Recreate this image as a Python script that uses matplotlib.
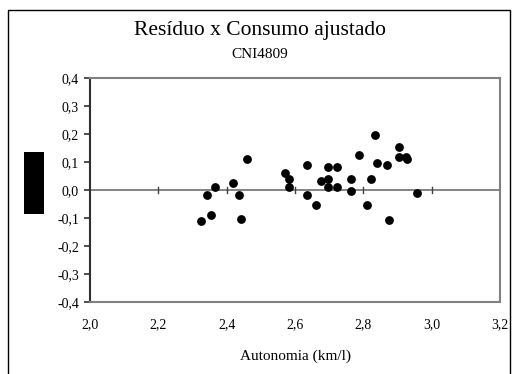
import matplotlib
matplotlib.use("Agg")
import matplotlib.pyplot as plt
from matplotlib.patches import Rectangle
from matplotlib.ticker import FuncFormatter

autonomia = [2.459, 2.366, 2.342, 2.418, 2.435, 2.324, 2.353, 2.441,
             2.571, 2.581, 2.581, 2.634, 2.634, 2.662, 2.675, 2.698,
             2.722, 2.698, 2.698, 2.722, 2.763, 2.763, 2.786, 2.810,
             2.821, 2.833, 2.839, 2.868, 2.874, 2.903, 2.903, 2.926,
             2.929, 2.956]
residuo = [0.111, 0.011, -0.017, 0.025, -0.017, -0.110, -0.090, -0.104,
           0.062, 0.039, 0.011, 0.090, -0.017, -0.052, 0.033, 0.083,
           0.083, 0.040, 0.011, 0.011, 0.040, -0.004, 0.126, -0.052,
           0.040, 0.198, 0.097, 0.090, -0.108, 0.155, 0.119, 0.119,
           0.112, -0.010]

title = "Resíduo x Consumo ajustado"
subtitle = "CNI4809"
xlabel = "Autonomia (km/l)"
xticks = [2.0, 2.2, 2.4, 2.6, 2.8, 3.0, 3.2]
yticks = [-0.4, -0.3, -0.2, -0.1, 0.0, 0.1, 0.2, 0.3, 0.4]

W, H = 512, 374
plt.rcParams['font.family'] = ['Liberation Serif', 'DejaVu Serif']
fig = plt.figure(figsize=(W / 100, H / 100), dpi=100)

# outer frame
fig.patches.append(Rectangle((8 / W, -0.05), (510 - 8) / W, (H - 10) / H + 0.05,
                             transform=fig.transFigure, fill=False,
                             edgecolor='black', linewidth=1.0))

L, R, T, B = 90, 500, 78, 302
ax = fig.add_axes([L / W, 1 - B / H, (R - L) / W, (B - T) / H])
ax.set_xlim(2.0, 3.2)
ax.set_ylim(-0.4, 0.4)

ax.scatter(autonomia, residuo, s=40, color='black', zorder=3, linewidths=0)

# zero axis line with ticks
ax.axhline(0, color='#707070', linewidth=1.2, zorder=2)
for xv in xticks[1:]:
    ax.plot([xv, xv], [-0.012, 0.012], color='#404040', linewidth=1.0, zorder=2)

for side in ['top', 'right', 'bottom']:
    ax.spines[side].set_color('#808080')
    ax.spines[side].set_linewidth(1.5)
ax.spines['left'].set_color('#303030')
ax.spines['left'].set_linewidth(1.5)

ax.set_yticks(yticks)
ax.yaxis.set_major_formatter(FuncFormatter(lambda v, p: f"{v:.1f}".replace('.', ',').replace('-0,0', '0,0')))
ax.tick_params(axis='y', direction='out', length=4, width=1.2, color='#303030',
               labelsize=10, pad=4)
ax.set_xticks(xticks)
ax.xaxis.set_major_formatter(FuncFormatter(lambda v, p: f"{v:.1f}".replace('.', ',')))
ax.tick_params(axis='x', length=0, labelsize=10, pad=12)

fig.text(260 / W, 1 - 30 / H, title, ha='center', va='center', fontsize=15.5)
fig.text(260 / W, 1 - 55 / H, subtitle, ha='center', va='center', fontsize=11)
fig.text(296 / W, 1 - 356 / H, xlabel, ha='center', va='center', fontsize=11)

# black box on the left
fig.patches.append(Rectangle((24 / W, 1 - 214 / H), 20 / W, 62 / H,
                             transform=fig.transFigure, facecolor='black',
                             edgecolor='none'))

fig.savefig("out.png", dpi=100)
